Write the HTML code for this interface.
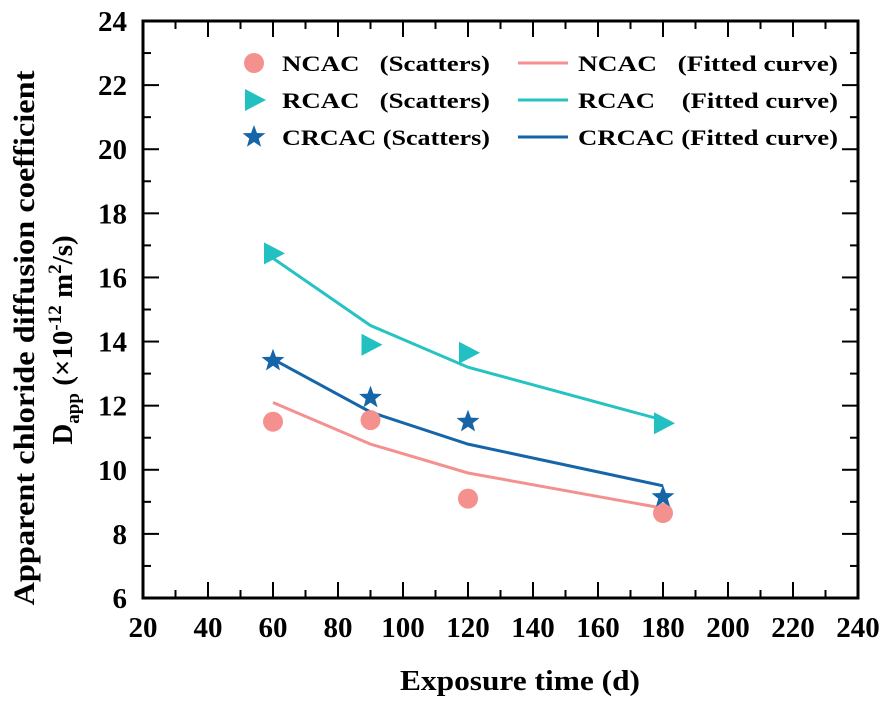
<!DOCTYPE html>
<html><head><meta charset="utf-8"><style>
body{margin:0;background:#fff}
svg{font-family:"Liberation Serif",serif;font-weight:bold}
text{white-space:pre}
</style></head><body>
<svg width="886" height="700" viewBox="0 0 886 700">
<script>
const times=[60,90,120,180];
const ncacPts=[11.5,11.55,9.1,8.65];
const ncacFit=[12.1,10.8,9.9,8.8];
const rcacPts=[16.75,13.9,13.65,11.45];
const rcacFit=[16.6,14.5,13.2,11.55];
const crcacPts=[13.4,12.25,11.5,9.15];
const crcacFit=[13.45,11.8,10.8,9.5];
const xTicks=[20,40,60,80,100,120,140,160,180,200,220,240];
const yTicks=[6,8,10,12,14,16,18,20,22,24];
</script>
<g id="g"></g>
<script>
const NS="http://www.w3.org/2000/svg";
const L=143,R=858,T=21,B=598;
const X=v=>L+(v-20)/220*(R-L);
const Y=v=>B-(v-6)/18*(B-T);
const g=document.getElementById('g');
function mk(t,a,p){const e=document.createElementNS(NS,t);for(const k in a)e.setAttribute(k,a[k]);(p||g).appendChild(e);return e;}
let e=mk('rect',{x:L,y:T,width:R-L,height:B-T,fill:'none',stroke:'#000','stroke-width':3});


for(let v=20;v<=240;v+=10){const maj=v%20===0;const len=maj?16:8;
mk('line',{x1:X(v),x2:X(v),y1:B,y2:B-len,stroke:'#000','stroke-width':2});
mk('line',{x1:X(v),x2:X(v),y1:T,y2:T+len,stroke:'#000','stroke-width':2});}
for(let v=6;v<=24;v+=1){const maj=v%2===0;const len=maj?16:8;
mk('line',{x1:L,x2:L+len,y1:Y(v),y2:Y(v),stroke:'#000','stroke-width':2});
mk('line',{x1:R,x2:R-len,y1:Y(v),y2:Y(v),stroke:'#000','stroke-width':2});}
xTicks.forEach(v=>{const t=mk('text',{x:X(v),y:B+39,'text-anchor':'middle','font-size':29});t.textContent=v;

});
yTicks.forEach(v=>{const t=mk('text',{x:L-16,y:Y(v)+10,'text-anchor':'end','font-size':29});t.textContent=v;

});
function line(vals,col,name){const p=mk('polyline',{points:times.map((t,i)=>X(t)+','+Y(vals[i])).join(' '),fill:'none',stroke:col,'stroke-width':3});

}
line(ncacFit,'#f4918f','ncac-fitted-curve');
line(rcacFit,'#27c3c3','rcac-fitted-curve');
line(crcacFit,'#1565a8','crcac-fitted-curve');
function circ(x,y){return mk('circle',{cx:x,cy:y,r:10,fill:'#f4918f'});}
function tri(x,y){return mk('polygon',{points:`${x-9},${y-11} ${x+12},${y} ${x-9},${y+11}`,fill:'#22c0c0'});}
function star(x,y){let p=[];for(let i=0;i<10;i++){const r=i%2?5:12;const a=-Math.PI/2+i*Math.PI/5;p.push((x+r*Math.cos(a))+','+(y+r*Math.sin(a)));}
return mk('polygon',{points:p.join(' '),fill:'#1565a8'});}
times.forEach((t,i)=>{let m=circ(X(t),Y(ncacPts[i]));
m=tri(X(t),Y(rcacPts[i]));
m=star(X(t),Y(crcacPts[i]));});
const ly=[63,100,137];
circ(254,ly[0]);tri(254,ly[1]);star(254,ly[2]);
[['#f4918f'],['#27c3c3'],['#1565a8']].forEach((c,i)=>mk('line',{x1:518,x2:568,y1:ly[i],y2:ly[i],stroke:c[0],'stroke-width':3}));
const ltxt=[['NCAC   (Scatters)','NCAC   (Fitted curve)'],['RCAC   (Scatters)','RCAC    (Fitted curve)'],['CRCAC (Scatters)','CRCAC (Fitted curve)']];
ltxt.forEach((p,i)=>{let t=mk('text',{x:282,y:ly[i]+8,'font-size':22,textLength:208,lengthAdjust:'spacingAndGlyphs'});t.textContent=p[0];

t=mk('text',{x:578,y:ly[i]+8,'font-size':22,textLength:260,lengthAdjust:'spacingAndGlyphs'});t.textContent=p[1];
});
</script>
<text x="520" y="690" text-anchor="middle" font-size="28" textLength="240" lengthAdjust="spacingAndGlyphs">Exposure time (d)</text>
<text transform="translate(34,338) rotate(-90)" text-anchor="middle" font-size="30" textLength="535" lengthAdjust="spacingAndGlyphs">Apparent chloride diffusion coefficient</text>
<text transform="translate(72,340) rotate(-90)" text-anchor="middle" font-size="29">D<tspan font-size="19" dy="7">app</tspan><tspan dy="-7"> (×10</tspan><tspan font-size="19" dy="-11">-12</tspan><tspan dy="11"> m</tspan><tspan font-size="19" dy="-11">2</tspan><tspan dy="11">/s)</tspan></text>
</svg>
</body></html>
